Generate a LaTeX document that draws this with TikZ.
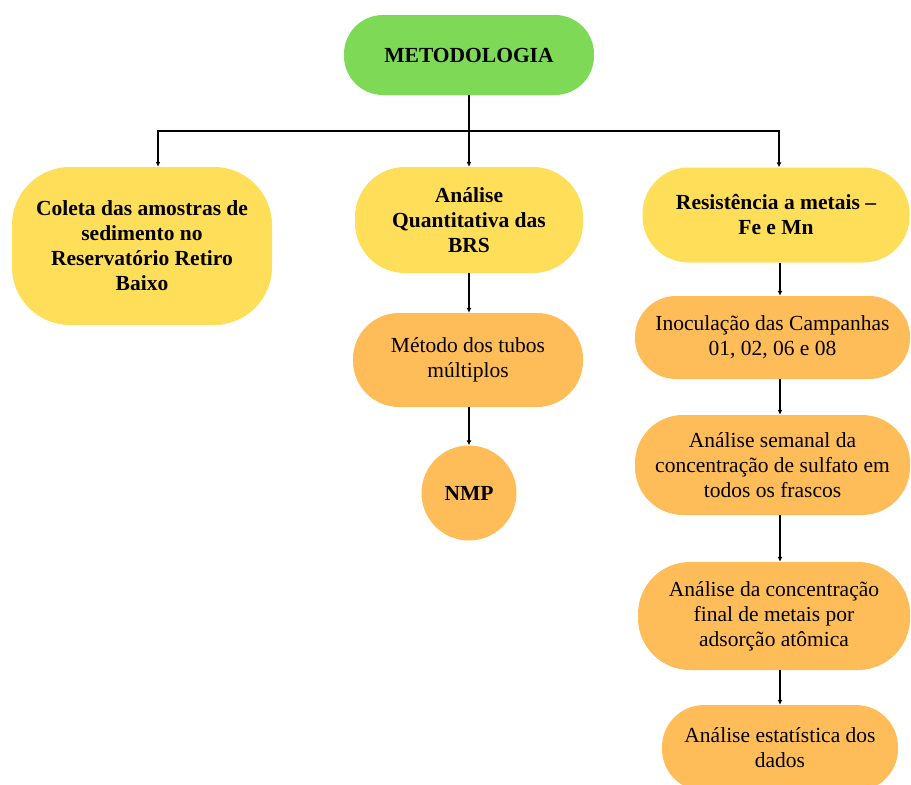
\documentclass[tikz,border=0pt]{standalone}
\usepackage{fontspec}
\setmainfont{Liberation Serif}
\usetikzlibrary{arrows.meta, positioning}
\definecolor{verde}{HTML}{7ED957}
\definecolor{amarelo}{HTML}{FFDE59}
\definecolor{laranja}{HTML}{FFBD59}
\tikzset{seta/.style={black, line width=1.2pt,-{Latex[length=5pt,width=5pt]}}}
\tikzset{caixa/.style={rounded corners=#1, align=center, inner sep=0pt, font=\fontsize{21.5}{25}\selectfont}}

\begin{document}
\begin{tikzpicture}[x=1pt,y=1pt]
    \useasboundingbox (0,0) rectangle (911,-785);
    %Topo
    \node[caixa=39pt, fill=verde, minimum width=250pt, minimum height=80pt, font=\fontsize{21.5}{25}\selectfont\bfseries] (met) at (469,-55) {METODOLOGIA};
    %Linha 1
    \node[caixa=58pt, fill=amarelo, minimum width=260pt, minimum height=158pt, font=\fontsize{21.5}{25}\selectfont\bfseries] (coleta) at (142,-246) {Coleta das amostras de\\ sedimento no\\ Reservatório Retiro\\ Baixo};
    \node[caixa=50pt, fill=amarelo, minimum width=228pt, minimum height=106pt, font=\fontsize{21.5}{25}\selectfont\bfseries] (quant) at (469,-220) {Análise\\ Quantitativa das\\ BRS};
    \node[caixa=46pt, fill=amarelo, minimum width=267pt, minimum height=95pt, font=\fontsize{21.5}{25}\selectfont\bfseries] (resist) at (776,-215) {Resistência a metais –\\ Fe e Mn};
    %Coluna do meio
    \node[caixa=46pt, fill=laranja, minimum width=230pt, minimum height=94pt] (metodo) at (468,-360) {Método dos tubos\\ múltiplos};
    \node[circle, fill=laranja, minimum size=95pt, inner sep=0pt, font=\fontsize{21.5}{25}\selectfont\bfseries] (nmp) at (469,-493) {NMP};
    %Coluna da direita
    \node[caixa=41pt, fill=laranja, minimum width=275pt, minimum height=83pt] (inoc) at (772.5,-337.5) {Inoculação das Campanhas\\ 01, 02, 06 e 08};
    \node[caixa=48pt, fill=laranja, minimum width=275pt, minimum height=100pt] (semanal) at (772.5,-465) {Análise semanal da\\ concentração de sulfato em\\ todos os frascos};
    \node[caixa=52pt, fill=laranja, minimum width=272pt, minimum height=108pt] (conc) at (774,-616) {Análise da concentração\\ final de metais por\\ adsorção atômica};
    \node[caixa=42pt, fill=laranja, minimum width=236pt, minimum height=86pt] (estat) at (780,-748) {Análise estatística dos\\ dados};
    %Ligacoes
    \coordinate (split) at (met.south |- 0,-131);
    \draw[black, line width=1.2pt] (met.south) -- (split);
    \draw[seta] (split) -| ([xshift=16pt]coleta.north);
    \draw[seta] (split) -- (split |- quant.north);
    \draw[seta] (split) -| ([xshift=3pt]resist.north);
    \draw[seta] (quant.south) -- (metodo.north -| quant.south);
    \draw[seta] (metodo.south -| quant.south) -- (nmp.north);
    \draw[seta] (resist.south -| estat) -- (inoc.north -| estat);
    \draw[seta] (inoc.south -| estat) -- (semanal.north -| estat);
    \draw[seta] (semanal.south -| estat) -- (conc.north -| estat);
    \draw[seta] (conc.south -| estat) -- (estat.north);
\end{tikzpicture}
\end{document}
